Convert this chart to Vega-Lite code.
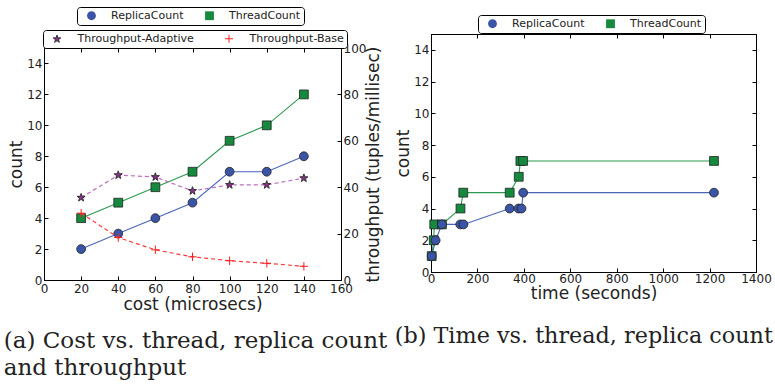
{
 "$schema": "https://vega.github.io/schema/vega-lite/v6.json",
 "background": "white",
 "padding": {"left": 3, "top": 6, "right": 3, "bottom": 3},
 "spacing": 6,
 "config": {
  "font": "DejaVu Sans",
  "view": {"stroke": "#000", "strokeWidth": 1},
  "axis": {"domainColor": "#000", "tickColor": "#000", "labelColor": "#222", "titleColor": "#222", "labelFont": "DejaVu Sans", "titleFont": "DejaVu Sans", "labelFontSize": 12, "titleFontSize": 17, "titleFontWeight": "normal", "grid": false, "tickSize": -4, "labelPadding": 7, "labelFlush": false, "labelOverlap": false, "domainWidth": 1, "tickWidth": 1, "titlePadding": 4},
  "legend": {"labelFont": "DejaVu Sans", "labelFontSize": 11, "labelColor": "#222", "strokeColor": "#000", "fillColor": "#fff", "padding": 3, "cornerRadius": 3, "direction": "horizontal", "orient": "none", "symbolOpacity": 1},
  "title": {"font": "DejaVu Serif", "fontSize": 23, "fontWeight": "normal", "color": "#222", "lineHeight": 27}
 },
 "resolve": {"scale": {"fill": "independent", "shape": "independent", "stroke": "independent"}, "legend": {"fill": "independent", "shape": "independent", "stroke": "independent"}},
 "hconcat": [
  {
   "width": 297, "height": 246,
   "view": {"stroke": null},
   "title": {"text": ["(a) Cost vs. thread, replica count", "and throughput"], "orient": "bottom", "anchor": "start", "offset": 18, "dx": -4},
   "layer": [
    {
     "data": {"values": [
      {"cost": 20, "series": "ReplicaCount", "count": 2}, {"cost": 40, "series": "ReplicaCount", "count": 3}, {"cost": 60, "series": "ReplicaCount", "count": 4}, {"cost": 80, "series": "ReplicaCount", "count": 5}, {"cost": 100, "series": "ReplicaCount", "count": 7}, {"cost": 120, "series": "ReplicaCount", "count": 7}, {"cost": 140, "series": "ReplicaCount", "count": 8},
      {"cost": 20, "series": "ThreadCount", "count": 4}, {"cost": 40, "series": "ThreadCount", "count": 5}, {"cost": 60, "series": "ThreadCount", "count": 6}, {"cost": 80, "series": "ThreadCount", "count": 7}, {"cost": 100, "series": "ThreadCount", "count": 9}, {"cost": 120, "series": "ThreadCount", "count": 10}, {"cost": 140, "series": "ThreadCount", "count": 12}
     ]},
     "encoding": {
      "x": {"field": "cost", "type": "quantitative", "scale": {"domain": [0, 160]}, "axis": {"orient": "bottom", "title": "cost (microsecs)", "values": [0, 20, 40, 60, 80, 100, 120, 140, 160], "titlePadding": 2}},
      "y": {"field": "count", "type": "quantitative", "scale": {"domain": [0, 15], "range": [246, 14]}, "axis": {"orient": "left", "title": "count", "values": [0, 2, 4, 6, 8, 10, 12, 14], "labelPadding": 6, "titlePadding": 1}}
     },
     "layer": [
      {"transform": [{"filter": "datum.series === 'ReplicaCount'"}],
       "mark": {"type": "line", "color": "#4a64bc", "strokeWidth": 1.1}},
      {"transform": [{"filter": "datum.series === 'ThreadCount'"}],
       "mark": {"type": "line", "color": "#2a9a52", "strokeWidth": 1.1}},
      {"mark": {"type": "point", "filled": true, "opacity": 1, "stroke": "#222", "strokeWidth": 0.8, "size": 78},
       "encoding": {
        "shape": {"field": "series", "type": "nominal", "scale": {"domain": ["ReplicaCount", "ThreadCount"], "range": ["circle", "square"]},
         "legend": {"title": null, "legendX": 33, "legendY": -27, "symbolSize": 78, "symbolOffset": 6, "labelOffset": 14, "columnPadding": 14, "symbolStrokeWidth": 0.8, "symbolStrokeColor": "#222"}},
        "fill": {"field": "series", "type": "nominal", "scale": {"domain": ["ReplicaCount", "ThreadCount"], "range": ["#3a55a8", "#158a3f"]},
         "legend": {"title": null, "legendX": 33, "legendY": -27, "symbolSize": 78, "symbolOffset": 6, "labelOffset": 14, "columnPadding": 14, "symbolStrokeWidth": 0.8, "symbolStrokeColor": "#222"}}}}
     ]
    },
    {
     "data": {"values": [
      {"cost": 20, "series": "Throughput-Adaptive", "tp": 35.5}, {"cost": 40, "series": "Throughput-Adaptive", "tp": 45.2}, {"cost": 60, "series": "Throughput-Adaptive", "tp": 44.4}, {"cost": 80, "series": "Throughput-Adaptive", "tp": 38.4}, {"cost": 100, "series": "Throughput-Adaptive", "tp": 41.0}, {"cost": 120, "series": "Throughput-Adaptive", "tp": 41.0}, {"cost": 140, "series": "Throughput-Adaptive", "tp": 43.9},
      {"cost": 20, "series": "Throughput-Base", "tp": 28.8}, {"cost": 40, "series": "Throughput-Base", "tp": 18.3}, {"cost": 60, "series": "Throughput-Base", "tp": 13.0}, {"cost": 80, "series": "Throughput-Base", "tp": 10.0}, {"cost": 100, "series": "Throughput-Base", "tp": 8.3}, {"cost": 120, "series": "Throughput-Base", "tp": 7.2}, {"cost": 140, "series": "Throughput-Base", "tp": 5.9}
     ]},
     "encoding": {
      "x": {"field": "cost", "type": "quantitative", "scale": {"domain": [0, 160]}, "axis": {"orient": "top", "offset": -14, "labels": false, "title": null, "values": [0, 20, 40, 60, 80, 100, 120, 140, 160]}},
      "y": {"field": "tp", "type": "quantitative", "scale": {"domain": [0, 100], "range": [246, 14]}, "axis": {"orient": "right", "title": "throughput (tuples/millisec)", "titleAngle": 270, "titleBaseline": "top", "values": [0, 20, 40, 60, 80, 100], "labelPadding": 6, "titlePadding": 0}}
     },
     "layer": [
      {"transform": [{"filter": "datum.series === 'Throughput-Adaptive'"}],
       "mark": {"type": "line", "color": "#bf6ac0", "strokeWidth": 1.2, "strokeDash": [4, 3]}},
      {"transform": [{"filter": "datum.series === 'Throughput-Base'"}],
       "mark": {"type": "line", "color": "#ff3a3a", "strokeWidth": 1.2, "strokeDash": [4, 3]}},
      {"mark": {"type": "point", "filled": true, "strokeWidth": 1, "opacity": 1, "size": 72},
       "encoding": {
        "shape": {"field": "series", "type": "nominal", "scale": {"domain": ["Throughput-Adaptive", "Throughput-Base"], "range": ["M0,-1L0.235,-0.324L0.951,-0.309L0.38,0.124L0.588,0.809L0,0.4L-0.588,0.809L-0.38,0.124L-0.951,-0.309L-0.235,-0.324Z", "M-1,0L1,0M0,-1L0,1"]},
         "legend": {"title": null, "legendX": -1, "legendY": -4, "symbolSize": 64, "symbolOffset": 5.5, "labelOffset": 15, "columnPadding": 24, "symbolStrokeWidth": 1}},
        "fill": {"field": "series", "type": "nominal", "scale": {"domain": ["Throughput-Adaptive", "Throughput-Base"], "range": ["#8b2f8b", "transparent"]},
         "legend": {"title": null, "legendX": -1, "legendY": -4, "symbolSize": 64, "symbolOffset": 5.5, "labelOffset": 15, "columnPadding": 24, "symbolStrokeWidth": 1}},
        "stroke": {"field": "series", "type": "nominal", "scale": {"domain": ["Throughput-Adaptive", "Throughput-Base"], "range": ["#333", "#ff2020"]},
         "legend": {"title": null, "legendX": -1, "legendY": -4, "symbolSize": 64, "symbolOffset": 5.5, "labelOffset": 15, "columnPadding": 24, "symbolStrokeWidth": 1}}}}
     ]
    }
   ],
   "resolve": {"scale": {"y": "independent", "shape": "independent", "fill": "independent", "stroke": "independent"}, "axis": {"x": "independent", "y": "independent"}, "legend": {"shape": "independent", "fill": "independent", "stroke": "independent"}}
  },
  {
   "width": 325, "height": 238,
   "title": {"text": "(b) Time vs. thread, replica count", "orient": "bottom", "anchor": "start", "offset": 24, "fontSize": 22.3},
   "data": {"values": [
    {"time": 3, "series": "ThreadCount", "count": 1}, {"time": 12, "series": "ThreadCount", "count": 2}, {"time": 14, "series": "ThreadCount", "count": 3}, {"time": 47, "series": "ThreadCount", "count": 3}, {"time": 127, "series": "ThreadCount", "count": 4}, {"time": 139, "series": "ThreadCount", "count": 5}, {"time": 339, "series": "ThreadCount", "count": 5}, {"time": 378, "series": "ThreadCount", "count": 6}, {"time": 385, "series": "ThreadCount", "count": 7}, {"time": 397, "series": "ThreadCount", "count": 7}, {"time": 1219, "series": "ThreadCount", "count": 7},
    {"time": 3, "series": "ReplicaCount", "count": 1}, {"time": 20, "series": "ReplicaCount", "count": 2}, {"time": 47, "series": "ReplicaCount", "count": 3}, {"time": 126, "series": "ReplicaCount", "count": 3}, {"time": 140, "series": "ReplicaCount", "count": 3}, {"time": 339, "series": "ReplicaCount", "count": 4}, {"time": 377, "series": "ReplicaCount", "count": 4}, {"time": 390, "series": "ReplicaCount", "count": 4}, {"time": 397, "series": "ReplicaCount", "count": 5}, {"time": 1219, "series": "ReplicaCount", "count": 5}
   ]},
   "layer": [
    {
     "encoding": {
      "x": {"field": "time", "type": "quantitative", "scale": {"domain": [0, 1400]}, "axis": {"orient": "bottom", "title": "time (seconds)", "format": "d", "values": [0, 200, 400, 600, 800, 1000, 1200, 1400], "labelPadding": 5, "titlePadding": 1}},
      "y": {"field": "count", "type": "quantitative", "scale": {"domain": [0, 15]}, "axis": {"orient": "left", "title": "count", "values": [0, 2, 4, 6, 8, 10, 12, 14], "labelPadding": 6, "titlePadding": 1}}
     },
     "layer": [
      {"transform": [{"filter": "datum.series === 'ReplicaCount'"}],
       "mark": {"type": "line", "color": "#4a64bc", "strokeWidth": 1.1}},
      {"transform": [{"filter": "datum.series === 'ThreadCount'"}],
       "mark": {"type": "line", "color": "#2a9a52", "strokeWidth": 1.1}}
     ]
    },
    {"mark": {"type": "point", "filled": true, "opacity": 1, "stroke": "#222", "strokeWidth": 0.8, "size": 78},
     "encoding": {
      "x": {"field": "time", "type": "quantitative", "scale": {"domain": [0, 1400]}, "axis": {"orient": "top", "labels": false, "title": null, "values": [0, 200, 400, 600, 800, 1000, 1200, 1400]}},
      "y": {"field": "count", "type": "quantitative", "scale": {"domain": [0, 15]}, "axis": {"orient": "right", "labels": false, "title": null, "values": [0, 2, 4, 6, 8, 10, 12, 14]}},
      "shape": {"field": "series", "type": "nominal", "scale": {"domain": ["ReplicaCount", "ThreadCount"], "range": ["circle", "square"]},
       "legend": {"title": null, "legendX": 47, "legendY": -19, "symbolSize": 78, "symbolOffset": 6, "labelOffset": 14, "columnPadding": 14, "symbolStrokeWidth": 0.8, "symbolStrokeColor": "#222"}},
      "fill": {"field": "series", "type": "nominal", "scale": {"domain": ["ReplicaCount", "ThreadCount"], "range": ["#3a55a8", "#158a3f"]},
       "legend": {"title": null, "legendX": 47, "legendY": -19, "symbolSize": 78, "symbolOffset": 6, "labelOffset": 14, "columnPadding": 14, "symbolStrokeWidth": 0.8, "symbolStrokeColor": "#222"}}}}
   ],
   "resolve": {"axis": {"x": "independent", "y": "independent"}}
  }
 ]
}
